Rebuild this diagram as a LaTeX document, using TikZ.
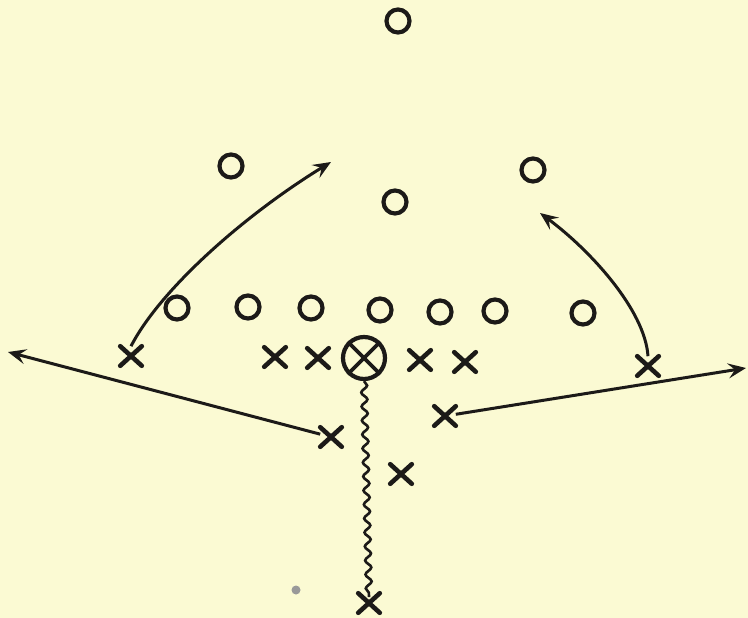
\documentclass[tikz,border=0pt]{standalone}
\usetikzlibrary{shapes.misc,arrows.meta,decorations.pathmorphing}
\definecolor{paper}{RGB}{251,250,211}
\definecolor{ink}{RGB}{28,26,24}
\tikzset{
  opp/.style={circle,draw=ink,line width=4.2pt,minimum size=23pt,inner sep=0pt},
  off/.style={cross out,draw=ink,line width=4.6pt,line cap=round,minimum width=17pt,minimum height=15pt,inner sep=0pt},
  ctr/.style={circle,draw=ink,line width=4.2pt,minimum size=42pt,inner sep=0pt},
  route/.style={draw=ink,line width=3pt,-{Stealth[length=18pt,width=15pt,inset=7pt]}},
  wavy/.style={draw=ink,line width=2.6pt,decorate,decoration={snake,segment length=14pt,amplitude=3pt}}
}
\begin{document}
\begin{tikzpicture}[x=1pt,y=-1pt]
\fill[paper] (0,0) rectangle (748,618);
\useasboundingbox (0,0) rectangle (748,618);
% defence
\node[opp] (o1) at (398,21) {};
\node[opp] (o2) at (231,166) {};
\node[opp] (o3) at (533,170) {};
\node[opp] (o4) at (395,202) {};
\node[opp] (o5) at (177,308) {};
\node[opp] (o6) at (248,307) {};
\node[opp] (o7) at (311,308) {};
\node[opp] (o8) at (380,310) {};
\node[opp] (o9) at (440,312) {};
\node[opp] (o10) at (495,311) {};
\node[opp] (o11) at (583,313) {};
% offence
\node[off] (le) at (131,356) {};
\node[off] (lg) at (275,357) {};
\node[off] (lt) at (318,358) {};
\node[ctr] (c) at (364,358) {};
\draw[ink,line width=3.8pt] (c.45) -- (c.225) (c.135) -- (c.315);
\node[off] (rg) at (420,360) {};
\node[off] (rt) at (465,362) {};
\node[off] (re) at (648,366) {};
\node[off] (lh) at (331,437) {};
\node[off] (rh) at (445,416) {};
\node[off] (fb) at (401,474) {};
\node[off] (tb) at (369,603) {};
% route ends
\coordinate (t1) at (331,162);
\coordinate (t2) at (540,213);
\coordinate (t3) at (8,352);
\coordinate (t4) at (746,368);
% routes
\draw[route] (le.north) .. controls (160,290) and (243,216) .. (t1);
\draw[route] (re.north) .. controls (645,310) and (590,250) .. (t2);
\draw[route] (lh) -- (t3);
\draw[route] (rh) -- (t4);
\draw[wavy] (c.south) -- ([yshift=-4pt]tb.north);
% speck
\fill[gray!80] (296,590) circle (4.5pt);
\end{tikzpicture}
\end{document}
